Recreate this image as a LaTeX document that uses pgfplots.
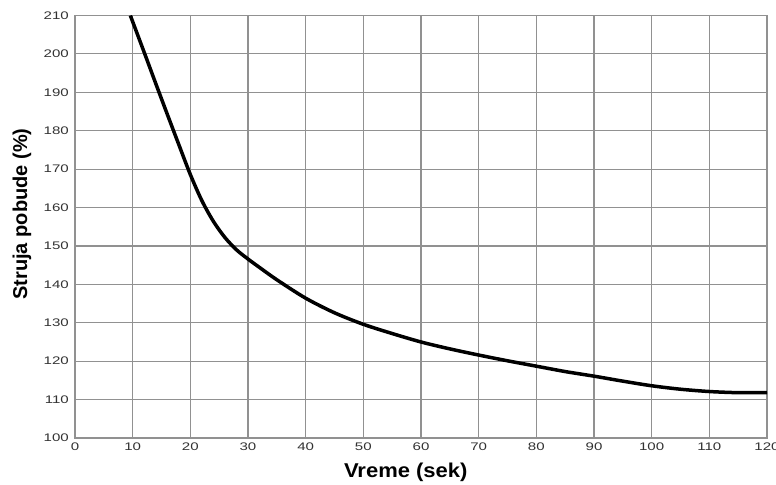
\documentclass[border=0pt]{standalone}
\usepackage{pgfplots}
\pgfplotsset{compat=1.18}
\usepackage{fontspec}
\setmainfont{Liberation Sans}
\definecolor{gridc}{RGB}{145,145,145}
\definecolor{tickc}{RGB}{50,50,50}
\begin{document}
\begin{tikzpicture}
\begin{axis}[
  scale only axis,
  width=692bp, height=422.5bp,
  xmin=0, xmax=120, ymin=100, ymax=210,
  xtick={0,10,...,120}, ytick={100,110,...,210},
  major tick length=0pt,
  grid=major,
  major grid style={draw=gridc, line width=1.1bp},
  axis line style={draw=gridc, line width=1.2bp},
  /pgf/number format/assume math mode=true,
  tick label style={font=\fontsize{11bp}{13bp}\selectfont, text=tickc, xscale=1.37},
  yticklabel style={xshift=-1bp},
  xticklabel style={yshift=-1bp},
  every axis x label/.style={at={(axis description cs:0.478,0)}, yshift=-34bp, anchor=center, xscale=1.1},
  every axis y label/.style={at={(axis description cs:0,0.53)}, xshift=-53bp, rotate=90, anchor=center},
  label style={font=\fontsize{20bp}{24bp}\selectfont\bfseries},
  xlabel={Vreme (sek)},
  ylabel={Struja pobude (\%)},
]
\addplot[black, line width=3.5bp, smooth, tension=0.5] coordinates {
(9.6,210) (12,200.4) (14,192.3) (16,184.3) (18,176.4) (20,168.6) (22,161.8)
(24,156.4) (26,152.2) (28,149.0) (30,146.6) (32,144.4) (35,141.2) (40,136.4)
(45,132.6) (50,129.6) (55,127.2) (60,125.0) (65,123.2) (70,121.6) (75,120.1)
(80,118.7) (85,117.3) (90,116.1) (95,114.8) (100,113.6) (105,112.7) (110,112.1)
(115,111.8) (120,111.8)
};
\end{axis}
\pgfresetboundingbox
\useasboundingbox (-75bp,-47bp) rectangle (701bp,438bp);
\end{tikzpicture}
\end{document}
